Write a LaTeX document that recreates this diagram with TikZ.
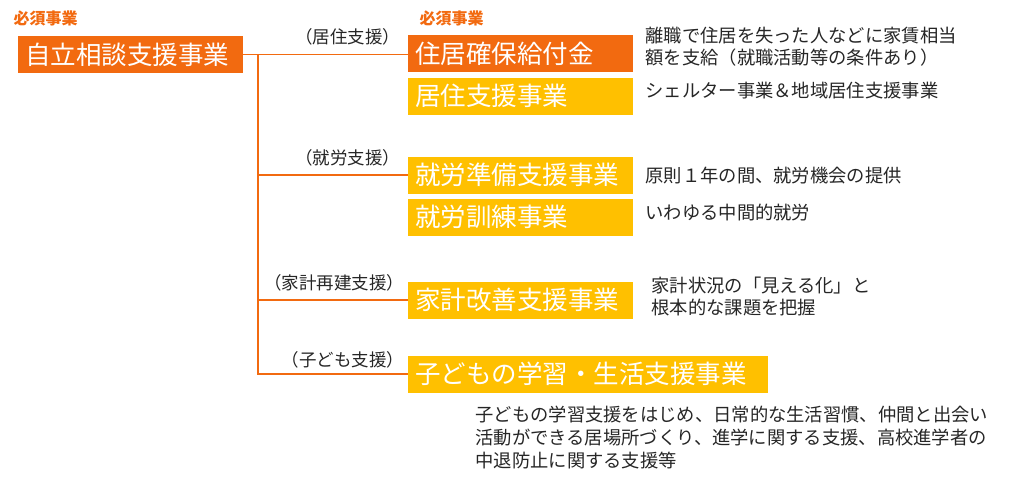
\documentclass[tikz,border=0pt]{standalone}
\usepackage{fontspec}
\setmainfont{Noto Sans CJK JP}
\definecolor{org}{HTML}{F26A10}
\definecolor{ylw}{HTML}{FFC000}
\definecolor{txt}{HTML}{262626}
\begin{document}
\begin{tikzpicture}[x=1pt,y=-1pt,
  bx/.style={anchor=west,minimum height=37pt,inner xsep=7pt,inner ysep=0pt,align=left,text=white,font=\fontsize{25.5}{27}\selectfont},
  ob/.style={bx,fill=org},
  yb/.style={bx,fill=ylw},
  lbl/.style={anchor=east,text=txt,font=\fontsize{17.5}{19}\selectfont},
  desc/.style={anchor=west,text=txt,font=\fontsize{18.3}{22}\selectfont,align=left},
  must/.style={anchor=west,text=org,font=\bfseries\fontsize{16}{17}\selectfont},
  ln/.style={draw=org,line width=1.6pt}]
\useasboundingbox (0,0) rectangle (1024,488);
\node[must] (m1) at (10,18) {必須事業};
\node[must] (m2) at (416,18) {必須事業};
\node[ob,text width=211pt] (a) at (18,54.5) {自立相談支援事業};
\node[ob,text width=211pt] (b1) at (408,53.5) {住居確保給付金};
\node[yb,text width=211pt] (b2) at (408,96) {居住支援事業};
\node[yb,text width=211pt] (c1) at (408,175) {就労準備支援事業};
\node[yb,text width=211pt] (c2) at (408,217) {就労訓練事業};
\node[yb,text width=211pt] (d1) at (408,300) {家計改善支援事業};
\node[yb,text width=346pt] (e1) at (408,374) {子どもの学習・生活支援事業};
\coordinate (j) at (258,54.5);
\draw[ln] (a.east) -- (b1.west |- a.east);
\draw[ln] (j) -- (j |- e1.west) -- (e1.west);
\draw[ln] (j |- c1.west) -- (c1.west);
\draw[ln] (j |- d1.west) -- (d1.west);
\node[lbl] (l1) at (404,37) {（居住支援）};
\node[lbl] (l2) at (404,158) {（就労支援）};
\node[lbl] (l3) at (408,283) {（家計再建支援）};
\node[lbl] (l4) at (408,360) {（子ども支援）};
\node[desc] (t1) at (642,47) {離職で住居を失った人などに家賃相当\\額を支給（就職活動等の条件あり）};
\node[desc] (t2) at (642,91) {シェルター事業＆地域居住支援事業};
\node[desc] (t3) at (642,176) {原則１年の間、就労機会の提供};
\node[desc] (t4) at (642,213) {いわゆる中間的就労};
\node[desc] (t5) at (648,297) {家計状況の「見える化」と\\根本的な課題を把握};
\node[desc,font=\fontsize{18.3}{23}\selectfont] (t6) at (472,438) {子どもの学習支援をはじめ、日常的な生活習慣、仲間と出会い\\活動ができる居場所づくり、進学に関する支援、高校進学者の\\中退防止に関する支援等};
\end{tikzpicture}
\end{document}
